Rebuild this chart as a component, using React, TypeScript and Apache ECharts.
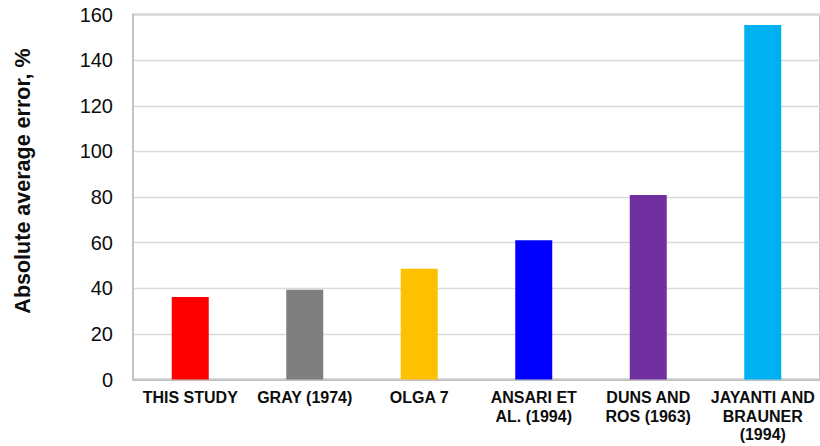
import React, { useEffect, useRef } from "react";
import * as echarts from "echarts";

const categories = [
  "THIS STUDY",
  "GRAY (1974)",
  "OLGA 7",
  "ANSARI ET\nAL. (1994)",
  "DUNS AND\nROS (1963)",
  "JAYANTI AND\nBRAUNER\n(1994)",
];
const values = [36.2, 39.3, 48.5, 61.0, 80.9, 155.4];
const barColors = ["#ff0000", "#7f7f7f", "#ffc000", "#0000ff", "#7030a0", "#00b0f0"];
const yAxisTitle = "Absolute average error, %";

export default function App() {
  const ref = useRef<HTMLDivElement>(null);
  useEffect(() => {
    if (!ref.current) return;
    const chart = echarts.init(ref.current, undefined, { renderer: "svg" });
    chart.setOption({
      animation: false,
      backgroundColor: "#ffffff",
      grid: {
        left: 133,
        right: -3,
        top: 14.5,
        bottom: 66.5,
        show: true,
        borderColor: "#c4c4c4",
        borderWidth: 2,
      },
      xAxis: {
        type: "category",
        data: categories,
        axisTick: { show: false },
        axisLine: { show: true, lineStyle: { color: "#c4c4c4", width: 2 } },
        axisLabel: {
          interval: 0,
          color: "#0d0d0d",
          fontFamily: "Liberation Sans, Arial, sans-serif",
          fontWeight: "bold",
          fontSize: 16,
          lineHeight: 18.5,
          margin: 9,
        },
      },
      yAxis: {
        type: "value",
        min: 0,
        max: 160,
        interval: 20,
        axisTick: { show: false },
        axisLine: { show: true, lineStyle: { color: "#c4c4c4", width: 2 } },
        splitLine: { show: true, lineStyle: { color: "#d9d9d9", width: 1.3 } },
        axisLabel: {
          color: "#0d0d0d",
          fontFamily: "Liberation Sans, Arial, sans-serif",
          fontSize: 20,
          margin: 20,
        },
      },
      graphic: [
        {
          type: "text",
          x: 23,
          y: 181,
          rotation: Math.PI / 2,
          style: {
            text: yAxisTitle,
            fontFamily: "Liberation Sans, Arial, sans-serif",
            fontWeight: "bold",
            fontSize: 21.5,
            fill: "#0d0d0d",
            textAlign: "center",
            textVerticalAlign: "middle",
          },
        },
      ],
      series: [
        {
          type: "bar",
          barWidth: 37,
          data: values.map((v, i) => ({ value: v, itemStyle: { color: barColors[i] } })),
        },
      ],
    });
    return () => chart.dispose();
  }, []);
  return (
    <div
      ref={ref}
      style={{ position: "absolute", left: 0, top: 0, width: 820, height: 446 }}
    />
  );
}
